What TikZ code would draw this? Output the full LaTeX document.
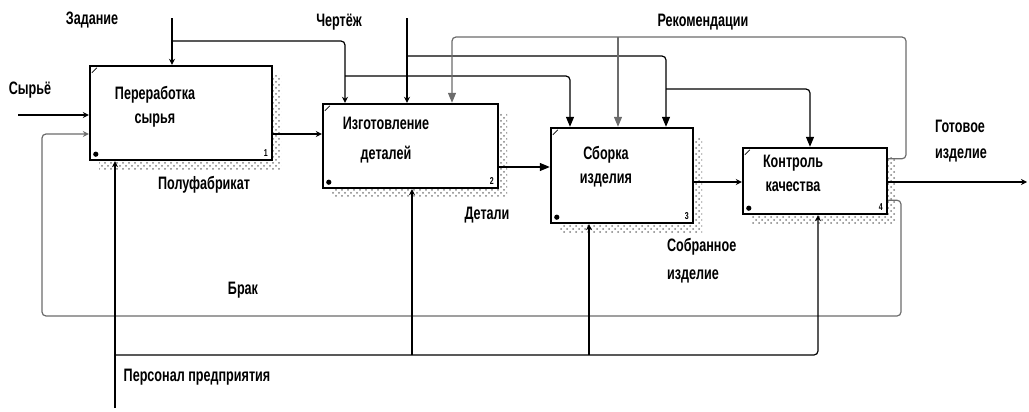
\documentclass[tikz,border=0pt]{standalone}
\usepackage{fontspec}
\setmainfont{Liberation Sans}[FakeStretch=0.7]
\usetikzlibrary{positioning, arrows.meta, shadows, patterns, calc}

\begin{document}
\begin{tikzpicture}[x=0.5pt, y=-0.5pt,
        font=\bfseries\fontsize{9}{12}\selectfont,
        func/.style={draw, line width=1.2pt, fill=white, inner sep=0pt,
            general shadow={shadow xshift=4.5pt, shadow yshift=-4.5pt,
                pattern=crosshatch dots, pattern color=gray}},
        num/.style={font=\bfseries\fontsize{5}{5}\selectfont, inner sep=0pt, anchor=south east},
        flow/.style={line width=0.6pt, rounded corners=2pt, -{Triangle[length=5pt,width=4pt]}},
        link/.style={line width=0.6pt, rounded corners=2pt, -{Stealth[length=3pt,width=3pt]}},
        fb/.style={draw=gray!85!black}]
        \useasboundingbox (0,0) rectangle (1029,412);

        % functions
        \node[func, minimum width=91pt, minimum height=47pt] (b_1) at (181,113) {};
        \node[func, minimum width=87.5pt, minimum height=42pt] (b_2) at (410.5,146) {};
        \node[func, minimum width=71pt, minimum height=47.5pt] (b_3) at (622,175.5) {};
        \node[func, minimum width=72pt, minimum height=33pt] (b_4) at (815,181) {};
        \node[align=center] (t_1) at (155,107) {Переработка\\сырья};
        \node[align=center] (t_2) at (386,140) {Изготовление\\[3pt]деталей};
        \node[align=center] (t_3) at (606,167) {Сборка\\изделия};
        \node[align=center] (t_4) at (793,173) {Контроль\\качества};
        \foreach \i in {1,...,4} {
            \node[num] (n_\i) at ([shift={(-5,-4)}]b_\i.south east) {\i};
            \draw[line width=0.4pt] ([shift={(3,8)}]b_\i.north west) -- ++(5,-5);
            \fill ([shift={(7,-7)}]b_\i.south west) circle (1.3pt);
        }

        % inputs
        \coordinate (syr) at (18,115);
        \draw[link] (syr) -- (b_1.west |- syr);
        \coordinate (br_r) at (901,316);
        \coordinate (br_l) at (42,134);
        \draw[link, fb] ($(b_4.south east)+(0,-15)$) -| (br_r) -| (br_l) -- (b_1.west |- br_l);

        % controls
        \coordinate (zad) at (172,18);
        \coordinate (zad_a) at (172,41);
        \coordinate (zad_b) at (345,76);
        \draw[link] (zad) -- (b_1.north -| zad);
        \draw[link] (zad_a) -| (b_2.north -| zad_b);
        \draw[flow] (zad_b) -| ($(b_3.north)+(-52,0)$);
        \coordinate (chr) at (407,18);
        \coordinate (chr_a) at (407,56);
        \coordinate (chr_b) at (666,89);
        \draw[link] (chr) -- (b_2.north -| chr);
        \draw[flow] (chr_a) -| (b_3.north -| chr_b);
        \draw[flow] (chr_b) -| ($(b_4.north)+(-5,0)$);
        \coordinate (rek_r) at (906,37);
        \coordinate (rek_l) at (452,37);
        \coordinate (rek_m) at (618,37);
        \draw[flow, fb] ($(b_4.north east)+(0,12)$) -| (rek_r) -- (rek_l) -- (b_2.north -| rek_l);
        \draw[flow, fb] (rek_m) -- (b_3.north -| rek_m);

        % outputs
        \draw[link] ([yshift=-10.5pt]b_1.east) coordinate (pf) -- (b_2.west |- pf);
        \draw[flow] ([yshift=-10.5pt]b_2.east) coordinate (det) -- (b_3.west |- det);
        \draw[link] ([yshift=-3.25pt]b_3.east) coordinate (sob) -- (b_4.west |- sob);
        \coordinate (got) at (1027,182);
        \draw[link] (b_4.east |- got) -- (got);

        % mechanisms
        \coordinate (per) at (115,408);
        \coordinate (per_a) at (115,355);
        \coordinate (per_2) at (412,355);
        \coordinate (per_3) at (589,355);
        \draw[link] (per) -- (b_1.south -| per);
        \draw[link] (per_a) -| ($(b_4.south)+(3,0)$);
        \draw[link] (per_2) -- (b_2.south -| per_2);
        \draw[link] (per_3) -- (b_3.south -| per_3);

        % labels
        \node (l_zad) at (92,20) {Задание};
        \node (l_chr) at (339,22) {Чертёж};
        \node (l_rek) at (703,22) {Рекомендации};
        \node (l_syr) at (30,90) {Сырьё};
        \node (l_pf) at (204,185) {Полуфабрикат};
        \node (l_det) at (487,215) {Детали};
        \node[align=left, anchor=west] (l_sob) at (660,261) {Собранное\\[2pt]изделие};
        \node[align=left, anchor=west] (l_got) at (928,141) {Готовое\\[1pt]изделие};
        \node (l_brak) at (243,290) {Брак};
        \node (l_per) at (197,377) {Персонал предприятия};
\end{tikzpicture}
\end{document}
